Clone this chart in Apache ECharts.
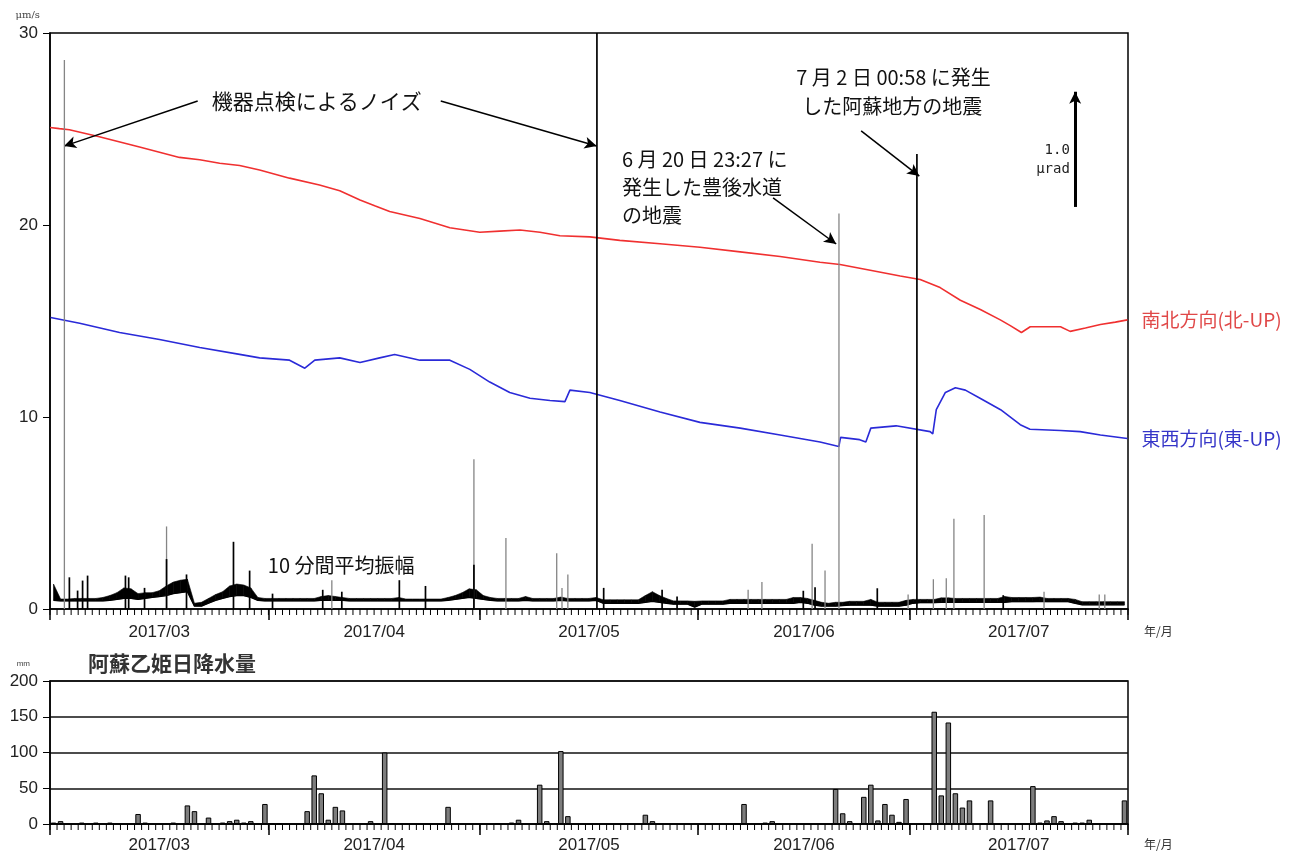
<!DOCTYPE html>
<html>
<head>
<meta charset="utf-8">
<script src="https://cdn.jsdelivr.net/npm/echarts@6/dist/echarts.min.js"></script>
<style>
  html, body { margin: 0; padding: 0; background: #fff; }
  #chart { width: 1308px; height: 857px; }
</style>
</head>
<body>
<div id="chart"></div>
<script>
// ---- period and axis labels ----
const monthStarts = ['3/1', '4/1', '5/1', '6/1', '7/1', '8/1'];
const monthLabels = ['2017/03', '2017/04', '2017/05', '2017/06', '2017/07'];
const ampTicks = { min: 0, max: 30, step: 10 };      // μm/s
const rainTicks = { min: 0, max: 200, step: 50 };    // mm
const tiltRange = { min: 0, max: 5 };                // μrad (relative)

// ---- tilt (μrad, relative offset) ----
const nsTilt = [
  ['3/1', 4.18], ['3/2 08:00', 4.17], ['3/3 18:00', 4.16], ['3/8', 4.10], ['3/13 17:00', 4.01],
  ['3/19 09:00', 3.92], ['3/22 06:00', 3.90], ['3/25 02:00', 3.87], ['3/27 22:00', 3.85],
  ['3/30 18:00', 3.81], ['4/4', 3.74], ['4/8 06:00', 3.68], ['4/11 03:00', 3.63], ['4/14', 3.55],
  ['4/16 02:00', 3.50], ['4/18 05:00', 3.45], ['4/22 12:00', 3.39], ['4/26 18:00', 3.31],
  ['5/1', 3.27], ['5/3 20:00', 3.28], ['5/6 17:00', 3.29], ['5/9 13:00', 3.27], ['5/12 09:00', 3.24],
  ['5/16 15:00', 3.23], ['5/20 21:00', 3.20], ['5/26 14:00', 3.17], ['6/1 06:00', 3.14],
  ['6/6 23:00', 3.10], ['6/12 15:00', 3.06], ['6/18 07:00', 3.01], ['6/21 03:00', 2.99],
  ['6/25 10:00', 2.94], ['6/29 16:00', 2.89], ['7/2 12:00', 2.86], ['7/5 08:00', 2.79],
  ['7/8 05:00', 2.68], ['7/11 01:00', 2.60], ['7/13 21:00', 2.51], ['7/15 07:00', 2.46],
  ['7/16 21:00', 2.40], ['7/18 03:00', 2.45], ['7/20 06:00', 2.45], ['7/22 10:00', 2.45],
  ['7/23 19:00', 2.41], ['7/25 23:00', 2.44], ['7/28 02:00', 2.47], ['7/30 05:00', 2.49],
  ['7/31 22:00', 2.51]
];
const ewTilt = [
  ['3/1 02:00', 2.53], ['3/5 05:00', 2.48], ['3/10 21:00', 2.40], ['3/16 13:00', 2.34],
  ['3/22 06:00', 2.27], ['3/27 22:00', 2.21], ['3/30 18:00', 2.18], ['4/4', 2.16],
  ['4/6 04:00', 2.09], ['4/7 14:00', 2.16], ['4/11 03:00', 2.18], ['4/14', 2.14],
  ['4/16 19:00', 2.18], ['4/18 22:00', 2.21], ['4/22 12:00', 2.16], ['4/26 18:00', 2.16],
  ['4/29 14:00', 2.08], ['5/2 10:00', 1.97], ['5/5 06:00', 1.88], ['5/8 03:00', 1.83],
  ['5/10 23:00', 1.81], ['5/13 02:00', 1.80], ['5/13 19:00', 1.90], ['5/16 15:00', 1.88],
  ['5/20 21:00', 1.81], ['5/26 14:00', 1.71], ['6/1 06:00', 1.62], ['6/6 23:00', 1.57],
  ['6/12 15:00', 1.51], ['6/18 07:00', 1.45], ['6/20 23:00', 1.41], ['6/21 05:00', 1.49],
  ['6/23 22:00', 1.47], ['6/24 19:00', 1.45], ['6/25 12:00', 1.57], ['6/29 02:00', 1.59],
  ['7/3 22:00', 1.54], ['7/4 07:00', 1.52], ['7/4 19:00', 1.73], ['7/6 02:00', 1.88],
  ['7/7 12:00', 1.92], ['7/8 22:00', 1.90], ['7/11', 1.83], ['7/13 22:00', 1.73],
  ['7/16 17:00', 1.60], ['7/18 02:00', 1.56], ['7/22 10:00', 1.55], ['7/25 05:00', 1.54],
  ['7/28 02:00', 1.51], ['7/31 22:00', 1.48]
];

// ---- 10-minute mean amplitude (μm/s): daily lower / upper envelope, from 3/1 ----
const ampLow = [
  // March
  0.45, 0.42, 0.42, 0.42, 0.42, 0.42, 0.42, 0.42, 0.45, 0.50,
  0.55, 0.55, 0.50, 0.55, 0.60, 0.65, 0.70, 0.80, 0.85, 0.90,
  0.15, 0.15, 0.30, 0.45, 0.55, 0.65, 0.70, 0.70, 0.60, 0.45, 0.42,
  // April
  0.42, 0.42, 0.42, 0.42, 0.42, 0.42, 0.42, 0.45, 0.45, 0.45,
  0.45, 0.42, 0.42, 0.42, 0.42, 0.42, 0.42, 0.42, 0.42, 0.42,
  0.42, 0.42, 0.42, 0.42, 0.42, 0.45, 0.50, 0.55, 0.60, 0.55,
  // May
  0.50, 0.45, 0.42, 0.42, 0.42, 0.42, 0.45, 0.42, 0.42, 0.42,
  0.42, 0.45, 0.42, 0.42, 0.42, 0.42, 0.45, 0.30, 0.30, 0.30,
  0.30, 0.30, 0.30, 0.35, 0.40, 0.35, 0.30, 0.25, 0.25, 0.25, 0.10,
  // June
  0.25, 0.25, 0.25, 0.25, 0.30, 0.30, 0.30, 0.30, 0.30, 0.30,
  0.30, 0.30, 0.30, 0.30, 0.35, 0.30, 0.20, 0.15, 0.15, 0.15,
  0.18, 0.20, 0.20, 0.20, 0.20, 0.15, 0.15, 0.15, 0.15, 0.20,
  // July
  0.30, 0.33, 0.33, 0.33, 0.35, 0.35, 0.35, 0.35, 0.35, 0.35,
  0.35, 0.35, 0.35, 0.35, 0.38, 0.38, 0.38, 0.38, 0.40, 0.38,
  0.38, 0.38, 0.38, 0.30, 0.22, 0.22, 0.22, 0.22, 0.22, 0.22, 0.22
];
const ampHigh = [
  // March
  1.30, 0.52, 0.52, 0.55, 0.55, 0.55, 0.55, 0.60, 0.70, 0.85,
  1.10, 1.05, 0.80, 0.85, 0.85, 0.95, 1.20, 1.40, 1.50, 1.55,
  0.30, 0.35, 0.55, 0.75, 0.90, 1.20, 1.30, 1.25, 1.10, 0.60, 0.55,
  // April
  0.55, 0.55, 0.55, 0.55, 0.55, 0.55, 0.55, 0.65, 0.70, 0.65,
  0.60, 0.55, 0.55, 0.55, 0.55, 0.55, 0.55, 0.55, 0.60, 0.52,
  0.52, 0.52, 0.52, 0.52, 0.52, 0.60, 0.70, 0.85, 1.05, 1.00,
  // May
  0.70, 0.60, 0.55, 0.55, 0.55, 0.55, 0.65, 0.55, 0.55, 0.55,
  0.55, 0.62, 0.55, 0.55, 0.55, 0.55, 0.60, 0.48, 0.48, 0.48,
  0.48, 0.48, 0.48, 0.70, 0.90, 0.70, 0.55, 0.42, 0.42, 0.42, 0.40,
  // June
  0.42, 0.42, 0.42, 0.42, 0.50, 0.50, 0.50, 0.50, 0.50, 0.50,
  0.50, 0.50, 0.50, 0.60, 0.60, 0.55, 0.45, 0.35, 0.30, 0.35,
  0.35, 0.40, 0.40, 0.40, 0.50, 0.35, 0.35, 0.35, 0.35, 0.45,
  // July
  0.50, 0.50, 0.50, 0.50, 0.58, 0.58, 0.55, 0.55, 0.55, 0.55,
  0.55, 0.55, 0.55, 0.65, 0.60, 0.60, 0.60, 0.60, 0.62, 0.55,
  0.55, 0.55, 0.55, 0.50, 0.38, 0.38, 0.38, 0.38, 0.38, 0.38, 0.38
];

// short isolated amplitude peaks (μm/s)
const greySpikes = [
  ['3/3 01:00', 28.6], ['3/17 13:00', 4.3], ['4/10 00:00', 1.5], ['4/30 04:00', 7.8],
  ['5/4 17:00', 3.7], ['5/11 22:00', 2.9], ['5/12 16:00', 1.1], ['5/13 12:00', 1.8],
  ['6/8 02:00', 1.0], ['6/10 01:00', 1.4], ['6/17 04:00', 3.4], ['6/19 00:00', 2.0],
  ['6/20 23:27', 20.6], ['6/30 19:00', 0.75], ['7/4 09:00', 1.55], ['7/6 05:00', 1.6],
  ['7/7 07:00', 4.7], ['7/11 14:00', 4.9], ['7/20 02:00', 0.9], ['7/27 22:00', 0.75],
  ['7/28 17:00', 0.75]
];
const blackSpikes = [
  ['3/3 18:00', 1.65], ['3/4 22:00', 0.96], ['3/5 15:00', 1.48], ['3/6 08:00', 1.74],
  ['3/11 17:00', 1.74], ['3/12 04:00', 1.65], ['3/14 10:00', 1.1], ['3/17 13:00', 2.6],
  ['3/20 09:00', 1.8], ['3/27 01:00', 3.5], ['3/29 08:00', 2.0], ['4/1 14:00', 0.8],
  ['4/8 17:00', 1.0], ['4/11 10:00', 0.9], ['4/19 14:00', 1.5], ['4/23 07:00', 1.2],
  ['4/30 04:00', 2.3], ['5/17 15:00', 30], ['5/18 14:00', 1.1], ['5/26 21:00', 1.0],
  ['5/29 00:00', 0.65], ['6/15 22:00', 0.95], ['6/17 14:00', 1.13], ['6/26 10:00', 1.08],
  ['7/2 00:58', 23.7], ['7/14 07:00', 0.72]
];

// ---- daily precipitation at Aso Otohime (mm) ----
const rain = [
  ['3/1', 2], ['3/2', 4], ['3/5', 2], ['3/7', 2], ['3/9', 2], ['3/13', 14], ['3/14', 2],
  ['3/18', 2], ['3/20', 26], ['3/21', 18], ['3/23', 9], ['3/25', 2], ['3/26', 4], ['3/27', 6],
  ['3/28', 2], ['3/29', 4], ['3/31', 28], ['4/1', 1], ['4/2', 1], ['4/6', 18], ['4/7', 68],
  ['4/8', 43], ['4/9', 6], ['4/10', 24], ['4/11', 19], ['4/15', 4], ['4/17', 100], ['4/18', 1],
  ['4/26', 24], ['5/3', 1], ['5/5', 2], ['5/6', 6], ['5/9', 55], ['5/10', 4], ['5/12', 102],
  ['5/13', 11], ['5/24', 13], ['5/25', 4], ['6/6', 1], ['6/7', 28], ['6/10', 2], ['6/11', 4],
  ['6/20', 49], ['6/21', 15], ['6/22', 4], ['6/24', 38], ['6/25', 55], ['6/26', 5], ['6/27', 28],
  ['6/28', 13], ['6/29', 3], ['6/30', 35], ['7/4', 157], ['7/5', 40], ['7/6', 142], ['7/7', 43],
  ['7/8', 23], ['7/9', 33], ['7/11', 1], ['7/12', 33], ['7/18', 53], ['7/19', 2], ['7/20', 5],
  ['7/21', 11], ['7/22', 4], ['7/24', 2], ['7/25', 2], ['7/26', 6], ['7/31', 33]
];

// ---- helpers ----
const T0 = Date.UTC(2017, 2, 1);
function dayOf(s) {
  const [md, hm = '0:00'] = s.split(' ');
  const [m, d] = md.split('/').map(Number);
  const [h, mi] = hm.split(':').map(Number);
  return (Date.UTC(2017, m - 1, d, h, mi) - T0) / 864e5;
}
const bounds = monthStarts.map(dayOf);
const END = bounds[bounds.length - 1];
const dayBounds = Array.from({ length: END + 1 }, (_, i) => i);
const mids = monthLabels.map((_, i) => (bounds[i] + bounds[i + 1]) / 2);
const monthFmt = v => {
  const i = mids.findIndex(m => Math.abs(m - v) < 1e-6);
  return i >= 0 ? monthLabels[i] : '';
};
const pts = arr => arr.map(([t, v]) => [dayOf(t), v]);

const CJK = '"Noto Sans CJK JP", "Noto Sans", sans-serif';
const NUM = '"Liberation Sans", Arial, sans-serif';

// time axis of a panel: month ticks (long) and month labels centred in each month
function monthAxis(grid, margin) {
  return {
    gridIndex: grid, type: 'value', position: 'bottom', min: 0, max: END,
    axisLine: { show: true, onZero: false, lineStyle: { color: '#000', width: 1.5 } },
    axisTick: { show: true, customValues: bounds, length: 11, lineStyle: { color: '#000', width: 1.5 } },
    axisLabel: { show: true, customValues: mids, formatter: monthFmt, margin: margin,
                 fontFamily: NUM, fontSize: 17, color: '#222' },
    splitLine: { show: false },
    name: '年/月', nameLocation: 'end', nameGap: 16,
    nameTextStyle: { fontFamily: CJK, fontSize: 12, color: '#333', align: 'left',
                     verticalAlign: 'top', padding: [margin + 1, 0, 0, 0] }
  };
}

// short daily ticks below the time axis, placed through the axis scale
function dayTickSeries(xIdx, yIdx) {
  return {
    name: 'day-ticks', type: 'custom', xAxisIndex: xIdx, yAxisIndex: yIdx,
    silent: true, clip: false, z: 6,
    data: dayBounds.map(d => [d, 0]),
    renderItem: (params, api) => {
      const p = api.coord([api.value(0), 0]);
      return { type: 'line', shape: { x1: p[0], y1: p[1], x2: p[0], y2: p[1] + 6 },
               style: { stroke: '#000', lineWidth: 1 } };
    }
  };
}

function spikeSeries(name, data, color, width) {
  return {
    name, type: 'custom', xAxisIndex: 0, yAxisIndex: 0, z: 5,
    data: pts(data),
    renderItem: (params, api) => {
      const p0 = api.coord([api.value(0), 0]);
      const p1 = api.coord([api.value(0), api.value(1)]);
      return { type: 'line', shape: { x1: p0[0], y1: p0[1], x2: p1[0], y2: p1[1] },
               style: { stroke: color, lineWidth: width } };
    }
  };
}

// daily envelope cells: [x0, low0, high0, x1, low1, high1]
const bandCells = ampLow.slice(0, -1).map((l, i) =>
  [i + 0.5, l, ampHigh[i], i + 1.5, ampLow[i + 1], ampHigh[i + 1]]);

function note(coord, text, opts = {}) {
  return {
    coord, symbol: 'circle', symbolSize: 1, itemStyle: { color: 'rgba(0,0,0,0)' },
    label: Object.assign({ show: true, formatter: text, position: 'inside', align: 'left',
      verticalAlign: 'middle', fontFamily: CJK, fontSize: 20, color: '#111', lineHeight: 28 }, opts)
  };
}
function arrow(from, to) {
  return [{ coord: from }, { coord: to }];
}

const chart = echarts.init(document.getElementById('chart'), null, { renderer: 'canvas' });
chart.setOption({
  animation: false,
  backgroundColor: '#fff',
  title: {
    text: '阿蘇乙姫日降水量', left: 83, top: 648,
    textStyle: { fontFamily: CJK, fontSize: 21, fontWeight: 'bold', color: '#333' }
  },
  grid: [
    { left: 50, right: 180, top: 33, bottom: 248, show: true, borderColor: '#000', borderWidth: 1.5, backgroundColor: 'transparent' },
    { left: 50, right: 180, top: 681, bottom: 33, show: true, borderColor: '#000', borderWidth: 1.5, backgroundColor: 'transparent' }
  ],
  xAxis: [monthAxis(0, 15), monthAxis(1, 13)],
  yAxis: [
    {
      gridIndex: 0, type: 'value', min: ampTicks.min, max: ampTicks.max, interval: ampTicks.step,
      name: 'μm/s', nameLocation: 'end', nameGap: 18,
      nameTextStyle: { fontFamily: '"DejaVu Serif", serif', fontSize: 10, color: '#444',
                       align: 'right', verticalAlign: 'middle', padding: [0, 10, 0, 0] },
      axisLine: { show: true, lineStyle: { color: '#000', width: 1.5 } },
      axisTick: { show: true, length: 7, lineStyle: { color: '#000', width: 1 } },
      axisLabel: { fontFamily: NUM, fontSize: 17, color: '#222', margin: 12 },
      splitLine: { show: false }
    },
    { gridIndex: 0, type: 'value', min: tiltRange.min, max: tiltRange.max, show: false },
    {
      gridIndex: 1, type: 'value', min: rainTicks.min, max: rainTicks.max, interval: rainTicks.step,
      name: 'mm', nameLocation: 'end', nameGap: 17,
      nameTextStyle: { fontFamily: NUM, fontSize: 8, color: '#444',
                       align: 'right', verticalAlign: 'middle', padding: [0, 20, 0, 0] },
      axisLine: { show: true, lineStyle: { color: '#000', width: 1.5 } },
      axisTick: { show: true, length: 7, lineStyle: { color: '#000', width: 1 } },
      axisLabel: { fontFamily: NUM, fontSize: 17, color: '#222', margin: 12 },
      splitLine: { show: true, lineStyle: { color: '#111', width: 1.5 } }
    }
  ],
  series: [
    {
      name: '東西方向(東-UP)', type: 'line', xAxisIndex: 0, yAxisIndex: 1,
      data: pts(ewTilt), showSymbol: false, z: 3,
      lineStyle: { color: '#2a2ad8', width: 1.6 },
      endLabel: { show: true, formatter: '{a}', distance: 14, color: '#3535c8',
                  fontFamily: CJK, fontSize: 19 }
    },
    {
      name: '南北方向(北-UP)', type: 'line', xAxisIndex: 0, yAxisIndex: 1,
      data: pts(nsTilt), showSymbol: false, z: 3,
      lineStyle: { color: '#f03030', width: 1.6 },
      endLabel: { show: true, formatter: '{a}', distance: 14, color: '#e04848',
                  fontFamily: CJK, fontSize: 19 },
      markLine: {
        silent: true, symbol: ['none', 'arrow'], symbolSize: [9, 12],
        lineStyle: { color: '#000', width: 3, type: 'solid' }, label: { show: false },
        data: [arrow([dayOf('7/24 12:00'), 3.49], [dayOf('7/24 12:00'), 4.49])]
      },
      markPoint: {
        silent: true,
        data: [note([dayOf('7/23 18:00'), 3.90], '1.0\nμrad',
          { align: 'right', fontFamily: '"DejaVu Sans Mono", monospace', fontSize: 14, lineHeight: 19, color: '#222' })]
      }
    },
    {
      name: 'amp-band', type: 'custom', xAxisIndex: 0, yAxisIndex: 0, z: 4,
      data: bandCells,
      renderItem: (params, api) => {
        const a = api.coord([api.value(0), api.value(1)]);
        const b = api.coord([api.value(3), api.value(4)]);
        const c = api.coord([api.value(3), api.value(5)]);
        const d = api.coord([api.value(0), api.value(2)]);
        return { type: 'polygon', shape: { points: [a, b, c, d] },
                 style: { fill: '#000', stroke: '#000', lineWidth: 0.6 } };
      }
    },
    {
      name: 'amp-low', type: 'line', xAxisIndex: 0, yAxisIndex: 0, z: 4,
      data: ampLow.map((v, i) => [i + 0.5, v]), showSymbol: false,
      lineStyle: { color: '#000', width: 1.3 },
      markLine: {
        silent: true, symbol: ['none', 'arrow'], symbolSize: [9, 12],
        lineStyle: { color: '#000', width: 1.5, type: 'solid' }, label: { show: false },
        data: [
          arrow([dayOf('3/21 23:00'), 26.46], [dayOf('3/3 00:00'), 24.11]),
          arrow([dayOf('4/25 11:00'), 26.46], [dayOf('5/17 14:00'), 24.11]),
          arrow([dayOf('6/11 15:00'), 21.41], [dayOf('6/20 14:00'), 19.01]),
          arrow([dayOf('6/24 03:00'), 24.90], [dayOf('7/2 09:00'), 22.55])
        ]
      },
      markPoint: {
        silent: true,
        data: [
          note([dayOf('3/23 23:00'), 26.46], '機器点検によるノイズ', { fontSize: 21 }),
          note([dayOf('5/21 04:00'), 21.98], '6 月 20 日 23:27 に\n発生した豊後水道\nの地震'),
          note([dayOf('6/14 22:00'), 27.71], '7 月 2 日 00:58 に発生'),
          note([dayOf('6/15 18:00'), 26.20], 'した阿蘇地方の地震'),
          note([dayOf('3/31 22:00'), 2.29], '10 分間平均振幅')
        ]
      }
    },
    spikeSeries('grey-peaks', greySpikes, '#858585', 1.3),
    spikeSeries('black-peaks', blackSpikes, '#000', 1.7),
    {
      name: '日降水量', type: 'bar', xAxisIndex: 1, yAxisIndex: 2,
      data: rain.map(([t, v]) => [dayOf(t) + 0.5, v]),
      barWidth: 5.5,
      itemStyle: { color: '#7d7d7d', borderColor: '#000', borderWidth: 1 }
    },
    dayTickSeries(0, 0),
    dayTickSeries(1, 2)
  ]
});
</script>
</body>
</html>
